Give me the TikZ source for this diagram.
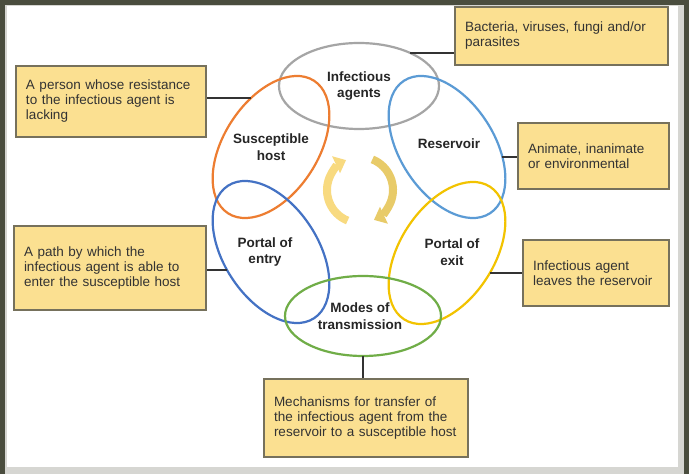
\documentclass[tikz,border=0pt]{standalone}
\usepackage{fontspec}
\setmainfont{Liberation Sans}
\usetikzlibrary{shapes.geometric,arrows.meta,positioning}

\definecolor{framecol}{RGB}{74,77,62}
\definecolor{shadecol}{RGB}{214,214,210}
\definecolor{notefill}{RGB}{251,224,145}
\definecolor{notedraw}{RGB}{118,113,92}
\definecolor{agentscol}{RGB}{165,165,165}
\definecolor{reservoircol}{RGB}{91,155,213}
\definecolor{hostcol}{RGB}{237,125,49}
\definecolor{entrycol}{RGB}{68,114,196}
\definecolor{exitcol}{RGB}{242,195,0}
\definecolor{transcol}{RGB}{112,173,71}
\definecolor{turnlight}{RGB}{248,218,128}
\definecolor{turndark}{RGB}{232,203,105}

\begin{document}
\begin{tikzpicture}[x=1pt, y=1pt,
    ring/.style={ellipse, draw, line width=2.2pt, outer sep=0pt, inner sep=0pt},
    stagelabel/.style={align=center, text=black!85,
        font=\fontsize{13.5}{16.5}\selectfont\bfseries},
    note/.style={draw=notedraw, fill=notefill, line width=1.2pt,
        inner xsep=10pt, inner ysep=0pt, align=left, text=black!80,
        font=\fontsize{13.5}{15}\selectfont},
    link/.style={draw=black!80, line width=1.5pt},
    turn/.style={line width=8pt, -{Triangle[length=11pt, width=18pt]}}]

    % Frame
    \useasboundingbox (0,0) rectangle (689,474);
    \fill[framecol] (0,0) rectangle (689,474);
    \fill[shadecol] (5,0) rectangle (684,469);
    \fill[white] (7,7) rectangle (678,468);

    % Stages of the chain
    \node[ring, draw=agentscol, minimum width=160pt, minimum height=86pt] (agents) at (359,388) {};
    \node[ring, draw=reservoircol, minimum width=158pt, minimum height=94pt, rotate=-57] (reservoir) at (447,327) {};
    \node[ring, draw=hostcol, minimum width=158pt, minimum height=94pt, rotate=57] (host) at (271,327) {};
    \node[ring, draw=entrycol, minimum width=158pt, minimum height=94pt, rotate=-57] (entry) at (271,222) {};
    \node[ring, draw=exitcol, minimum width=158pt, minimum height=94pt, rotate=57] (exit) at (447,221) {};
    \node[ring, draw=transcol, minimum width=156pt, minimum height=80pt] (trans) at (363,158) {};

    \node[stagelabel] (agentslabel) at (agents.center) {Infectious\\agents};
    \node[stagelabel] (reservoirlabel) at ([shift={(2,3)}]reservoir.center) {Reservoir};
    \node[stagelabel] (hostlabel) at (host.center) {Susceptible\\host};
    \node[stagelabel] (entrylabel) at ([shift={(-6,0)}]entry.center) {Portal of\\entry};
    \node[stagelabel] (exitlabel) at ([shift={(5,1)}]exit.center) {Portal of\\exit};
    \node[stagelabel] (translabel) at ([shift={(-3,0)}]trans.center) {Modes of\\transmission};

    % Notes
    \node[note, text width=193pt, minimum height=58pt] (agentsnote) at (561.5,438) {Bacteria, viruses, fungi and/or\\parasites};
    \node[note, text width=170pt, minimum height=71pt] (hostnote) at (111,372.5) {A person whose resistance\\to the infectious agent is\\lacking};
    \node[note, text width=172pt, minimum height=84pt] (entrynote) at (110,206) {A path by which the\\infectious agent is able to\\enter the susceptible host};
    \node[note, text width=131pt, minimum height=66pt] (reservoirnote) at (593.5,318) {Animate, inanimate\\or environmental};
    \node[note, text width=126pt, minimum height=66pt] (exitnote) at (596,201) {Infectious agent\\leaves the reservoir};
    \node[note, text width=184pt, minimum height=78pt] (transnote) at (366,56) {Mechanisms for transfer of\\the infectious agent from the\\reservoir to a susceptible host};

    % Connectors
    \coordinate (hostend) at (251,376);
    \coordinate (entryend) at (227,204);
    \coordinate (reservoirend) at (502,317);
    \coordinate (exitend) at (490,201);
    \draw[link] (agents.33) -- (agents.33 -| agentsnote.west);
    \draw[link] (hostend) -- (hostend -| hostnote.east);
    \draw[link] (entryend) -- (entryend -| entrynote.east);
    \draw[link] (reservoirend) -- (reservoirend -| reservoirnote.west);
    \draw[link] (exitend) -- (exitend -| exitnote.west);
    \draw[link] (trans.south) -- (trans.south |- transnote.north);

    % Cycle arrows
    \coordinate (hub) at (360,284);
    \draw[turn, draw=turnlight] ([shift={(248:33)}]hub) arc[start angle=248, end angle=115, radius=33];
    \draw[turn, draw=turndark] ([shift={(68:33)}]hub) arc[start angle=68, end angle=-65, radius=33];
\end{tikzpicture}
\end{document}
